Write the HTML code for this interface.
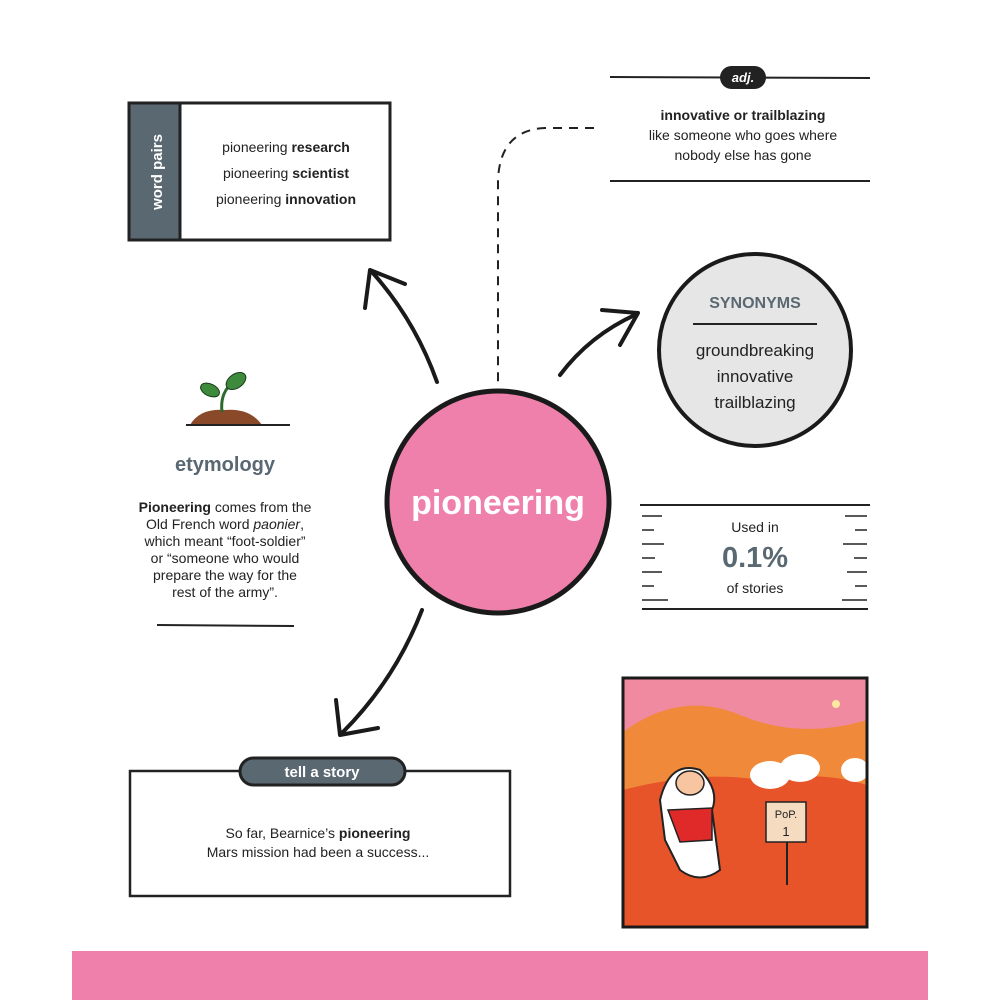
<!DOCTYPE html>
<html><head><style>
body{margin:0;background:#fff}
svg text{font-family:"Liberation Sans",sans-serif}
</style></head><body>
<svg width="1000" height="1000" viewBox="0 0 1000 1000" xmlns="http://www.w3.org/2000/svg">
<rect width="1000" height="1000" fill="#fff"/>
<!-- word pairs -->
<rect x="129" y="103" width="261" height="137" fill="#fff" stroke="#222" stroke-width="3"/>
<rect x="129" y="103" width="51" height="137" fill="#5a6872" stroke="#222" stroke-width="3"/>
<text transform="translate(162,172) rotate(-90)" text-anchor="middle" font-size="15" font-weight="bold" fill="#fff">word pairs</text>
<g font-size="14" fill="#222" text-anchor="middle">
<text x="286" y="152">pioneering <tspan font-weight="bold">research</tspan></text>
<text x="286" y="178">pioneering <tspan font-weight="bold">scientist</tspan></text>
<text x="286" y="204">pioneering <tspan font-weight="bold">innovation</tspan></text>
</g>
<!-- adj -->
<line x1="610" y1="77" x2="870" y2="78" stroke="#222" stroke-width="2"/>
<rect x="720" y="66" width="46" height="23" rx="11.5" fill="#222"/>
<text x="743" y="82" text-anchor="middle" font-size="13" font-weight="bold" font-style="italic" fill="#fff">adj.</text>
<g font-size="14" fill="#222" text-anchor="middle">
<text x="743" y="120" font-weight="bold">innovative or trailblazing</text>
<text x="743" y="140">like someone who goes where</text>
<text x="743" y="160">nobody else has gone</text>
</g>
<line x1="610" y1="181" x2="870" y2="181" stroke="#222" stroke-width="2"/>
<path d="M594 128 L545 128 Q500 130 498 180 L498 384" fill="none" stroke="#222" stroke-width="2" stroke-dasharray="9 7"/>
<!-- synonyms -->
<circle cx="755" cy="350" r="96" fill="#e6e6e6" stroke="#1a1a1a" stroke-width="4"/>
<text x="755" y="308" text-anchor="middle" font-size="16" font-weight="bold" fill="#5a6872">SYNONYMS</text>
<line x1="693" y1="324" x2="817" y2="324" stroke="#222" stroke-width="2"/>
<g font-size="17" fill="#222" text-anchor="middle">
<text x="755" y="356">groundbreaking</text>
<text x="755" y="382">innovative</text>
<text x="755" y="408">trailblazing</text>
</g>
<!-- used in -->
<line x1="640" y1="505" x2="870" y2="505" stroke="#222" stroke-width="2"/>
<line x1="642" y1="609" x2="868" y2="609" stroke="#222" stroke-width="2"/>
<g stroke="#222" stroke-width="1.5">
<line x1="642" y1="516" x2="662" y2="516"/><line x1="642" y1="530" x2="654" y2="530"/><line x1="642" y1="544" x2="664" y2="544"/><line x1="642" y1="558" x2="655" y2="558"/><line x1="642" y1="572" x2="662" y2="572"/><line x1="642" y1="586" x2="654" y2="586"/><line x1="642" y1="600" x2="668" y2="600"/>
<line x1="845" y1="516" x2="867" y2="516"/><line x1="855" y1="530" x2="867" y2="530"/><line x1="843" y1="544" x2="867" y2="544"/><line x1="854" y1="558" x2="867" y2="558"/><line x1="847" y1="572" x2="867" y2="572"/><line x1="855" y1="586" x2="867" y2="586"/><line x1="842" y1="600" x2="867" y2="600"/>
</g>
<text x="755" y="532" text-anchor="middle" font-size="14" fill="#222">Used in</text>
<text x="755" y="567" text-anchor="middle" font-size="29" font-weight="bold" fill="#5a6872">0.1%</text>
<text x="755" y="593" text-anchor="middle" font-size="14" fill="#222">of stories</text>
<!-- center -->
<circle cx="498" cy="502" r="111" fill="#ee80ab" stroke="#1a1a1a" stroke-width="5"/>
<text x="498" y="514" text-anchor="middle" font-size="34" font-weight="bold" fill="#fff">pioneering</text>
<!-- arrows -->
<g fill="none" stroke="#1a1a1a" stroke-width="4" stroke-linecap="round" stroke-linejoin="round">
<path d="M437 382 Q415 320 372 272"/><path d="M365 308 L370 270 L405 284"/>
<path d="M560 375 Q590 335 637 314"/><path d="M602 310 L638 313 L620 345"/>
<path d="M422 610 Q395 680 342 733"/><path d="M336 700 L340 735 L378 728"/>
</g>
<!-- sprout -->
<path d="M190 425 Q200 408 225 410 Q250 408 262 425 Z" fill="#8a4a2a"/>
<line x1="186" y1="425" x2="290" y2="425" stroke="#222" stroke-width="2"/>
<path d="M222 412 Q220 395 230 385" stroke="#2d6a2d" stroke-width="3" fill="none"/>
<ellipse cx="236" cy="381" rx="11" ry="7" transform="rotate(-35 236 381)" fill="#3d8a3d" stroke="#1a3a1a"/>
<ellipse cx="210" cy="390" rx="10" ry="6" transform="rotate(25 210 390)" fill="#3d8a3d" stroke="#1a3a1a"/>
<!-- etymology -->
<text x="225" y="471" text-anchor="middle" font-size="20" font-weight="bold" fill="#5a6872">etymology</text>
<g font-size="14" fill="#222" text-anchor="middle">
<text x="225" y="512"><tspan font-weight="bold">Pioneering</tspan> comes from the</text>
<text x="225" y="529">Old French word <tspan font-style="italic">paonier</tspan>,</text>
<text x="225" y="546">which meant “foot-soldier”</text>
<text x="225" y="563">or “someone who would</text>
<text x="225" y="580">prepare the way for the</text>
<text x="225" y="597">rest of the army”.</text>
</g>
<line x1="157" y1="625" x2="294" y2="626" stroke="#222" stroke-width="2"/>
<!-- tell a story -->
<rect x="130" y="771" width="380" height="125" fill="#fff" stroke="#222" stroke-width="2.5"/>
<rect x="240" y="758" width="165" height="27" rx="13.5" fill="#5a6872" stroke="#222" stroke-width="3"/>
<text x="322" y="777" text-anchor="middle" font-size="15" font-weight="bold" fill="#fff">tell a story</text>
<g font-size="14" fill="#222" text-anchor="middle">
<text x="318" y="838">So far, Bearnice’s <tspan font-weight="bold">pioneering</tspan></text>
<text x="318" y="857">Mars mission had been a success...</text>
</g>
<!-- picture -->
<rect x="623" y="678" width="244" height="249" fill="#e8542a"/>
<rect x="623" y="678" width="244" height="100" fill="#ef8aa0"/>
<path d="M623 732 Q680 690 740 715 Q800 740 867 720 L867 790 L623 790 Z" fill="#f08a3a"/>
<path d="M623 790 Q700 770 760 780 Q820 770 867 785 L867 927 L623 927 Z" fill="#e8542a"/>
<circle cx="836" cy="704" r="4" fill="#ffe9a0"/>
<ellipse cx="770" cy="775" rx="20" ry="14" fill="#fff"/><ellipse cx="800" cy="768" rx="20" ry="14" fill="#fff"/><ellipse cx="855" cy="770" rx="14" ry="12" fill="#fff"/>
<path d="M660 800 Q670 760 700 770 Q720 790 712 810 L720 870 Q700 885 680 870 L665 840 Z" fill="#fff" stroke="#222" stroke-width="2"/>
<path d="M668 810 L712 808 L712 840 L680 842 Z" fill="#e02a2a" stroke="#222" stroke-width="1.5"/>
<ellipse cx="690" cy="783" rx="14" ry="12" fill="#f7c6a0" stroke="#222" stroke-width="1.5"/>
<rect x="766" y="802" width="40" height="40" fill="#f5dcc0" stroke="#222" stroke-width="1.5"/>
<text x="786" y="818" text-anchor="middle" font-size="11" fill="#222">PoP.</text>
<text x="786" y="836" text-anchor="middle" font-size="13" fill="#222">1</text>
<line x1="787" y1="842" x2="787" y2="885" stroke="#222" stroke-width="2"/>
<rect x="623" y="678" width="244" height="249" fill="none" stroke="#1a1a1a" stroke-width="3"/>
<!-- bottom bar -->
<rect x="72" y="951" width="856" height="49" fill="#ee80ab"/>
</svg>
</body></html>
